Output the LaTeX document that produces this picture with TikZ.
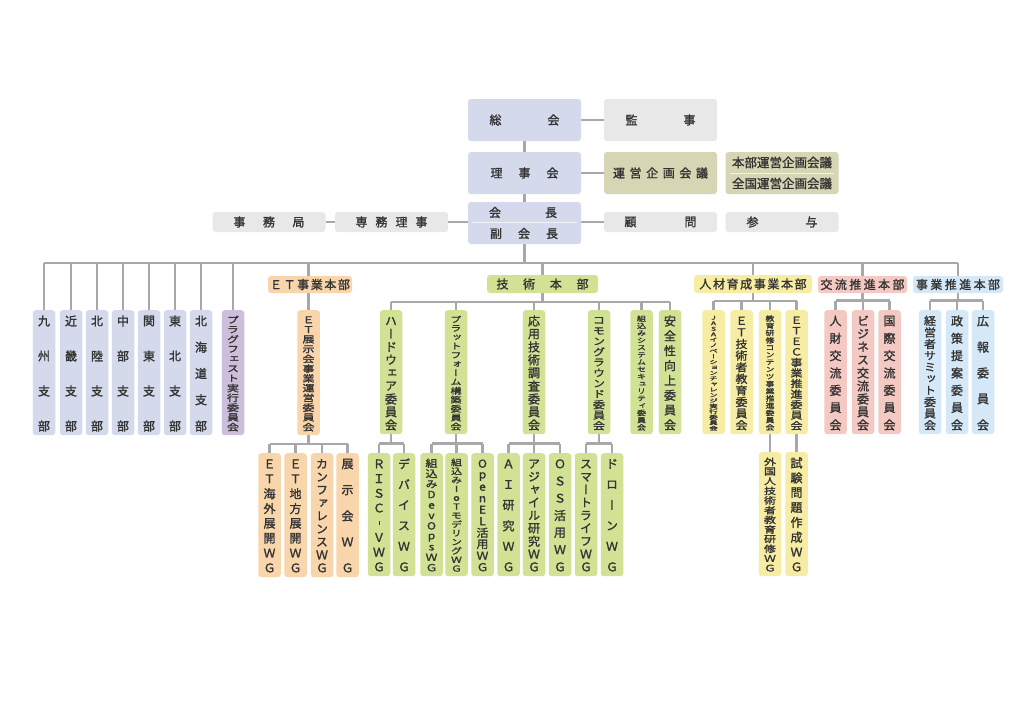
\documentclass[tikz,border=0pt]{standalone}
\usepackage{graphicx}
\usepackage{fontspec}
\newfontfamily\jp{Noto Sans CJK JP}[FakeBold=1.5]
\newfontfamily\jpv{Noto Sans CJK JP}[RawFeature=+vert,FakeBold=1.5]
\definecolor{navy}{HTML}{D4D9EC}
\definecolor{gry}{HTML}{E8E8E8}
\definecolor{olv}{HTML}{D6D5B4}
\definecolor{prp}{HTML}{CDBFDC}
\definecolor{org}{HTML}{F9D5AC}
\definecolor{grn}{HTML}{D2E295}
\definecolor{ylw}{HTML}{F7ECA3}
\definecolor{pnk}{HTML}{F5C9C3}
\definecolor{lbl}{HTML}{D5E8F7}
\definecolor{ln}{HTML}{A8A8A8}
\definecolor{txt}{HTML}{333333}
\pgfdeclarelayer{bg}
\pgfsetlayers{bg,main}
\tikzset{
  obox/.style={draw=none, rounded corners=3pt, inner sep=0pt, text=txt, font=\jp\fontsize{12}{14}\selectfont},
  vb/.style={obox, minimum width=22.5pt},
  tb/.style={obox, minimum width=113pt, minimum height=42pt},
  sb/.style={obox, minimum width=113pt, minimum height=20pt},
  hd/.style={obox, minimum height=17pt},
  conn/.style={draw=ln, line width=2.4pt},
  sep/.style={draw=white, line width=0.8pt, opacity=0.7}
}
% spaced horizontal text
\newcommand\spc[2]{\foreach \c [count=\k] in {#2}{\ifnum\k>1\hspace{#1}\fi\c}}
\newcommand\vhy{\raisebox{2.6pt}{\rule{0.9pt}{3.5pt}}}
% vertical column box: name, x, top, bottom, fill, chars
\newcommand\vcol[6]{%
  \node[vb, fill=#5, minimum height={#4-#3}, anchor=north] (#1) at (#2,#3) {};
  \foreach \c [count=\k] in {#6} {\xdef\vn{\k}}%
  \pgfmathsetmacro\vH{#4-#3}%
  \pgfmathsetmacro\vsa{(\vH-20)/max(\vn-1,1)}%
  \pgfmathsetmacro\vsb{(\vH-8)/\vn}%
  \pgfmathsetmacro\vbig{\vsa>=12 ? 1 : 0}%
  \pgfmathsetmacro\vS{\vbig>0.5 ? \vsa : \vsb}%
  \pgfmathsetmacro\vF{\vbig>0.5 ? 12 : 0.95*\vsb}%
  \pgfmathsetmacro\vT{#3 + (\vbig>0.5 ? 11 : 5+\vsb/2)}%
  \pgfmathsetmacro\vW{min(12,max(1.3*\vF,8.5))}%
  \pgfmathsetmacro\vR{min(1,\vF/\vW)}%
  \foreach \c [count=\k] in {#6} {%
    \node[inner sep=0pt, text=txt, font=\jpv\fontsize{\vW pt}{\vW pt}\selectfont] (#1-\k) at (#2, {\vT+(\k-1)*\vS}) {\scalebox{1}[\vR]{\vphantom{国}\c}};
  }%
}
% fan: parent, bus y, first child, last child, all children
\newcommand\fan[5]{%
  \coordinate (yb) at (0,#2);
  \draw[conn] (#1.south) -- (#1.south |- yb);
  \draw[conn] (#3.north |- yb) -- (#4.north |- yb);
  \foreach \c in {#5} {\draw[conn] (\c.north) -- (\c.north |- yb);}
}
\begin{document}
\begin{tikzpicture}[x=1pt,y=-1pt]
\useasboundingbox (0,0) rectangle (1024,724);
\begin{pgfonlayer}{bg}
\fill[white] (0,0) rectangle (1024,724);
\end{pgfonlayer}

% ---- top boxes
\node[tb, fill=navy] (sokai) at (524.5,120) {総\hspace{46pt}会};
\node[tb, fill=gry] (kanji) at (660.5,120) {監\hspace{46pt}事};
\node[tb, fill=navy] (riji) at (524.5,173) {理\hspace{16pt}事\hspace{16pt}会};
\node[tb, fill=olv] (unei) at (660.5,173) {\spc{4.6pt}{運,営,企,画,会,議}};
\node[tb, fill=olv, align=center, font=\jp\fontsize{12.5}{21}\selectfont] (honbu) at (782,173) {本部運営企画会議\\全国運営企画会議};
\draw[sep] (730,173) -- (834,173);
\node[tb, fill=navy] (kaicho) at (524.5,223) {};
\draw[sep] (472,222.5) -- (577,222.5);
\node[inner sep=0pt, text=txt, font=\jp\fontsize{12}{14}\selectfont] (kaichoA) at (523,212.5) {会\hspace{44pt}長};
\node[inner sep=0pt, text=txt, font=\jp\fontsize{12}{14}\selectfont] (kaichoB) at (524,233.5) {副\hspace{16pt}会\hspace{16pt}長};
\node[sb, fill=gry] (jimu) at (269,222) {事\hspace{17.5pt}務\hspace{17.5pt}局};
\node[sb, fill=gry] (senmu) at (391.5,222) {\spc{8pt}{専,務,理,事}};
\node[sb, fill=gry] (komon) at (660.5,222) {顧\hspace{48pt}問};
\node[sb, fill=gry] (sanyo) at (782,222) {参\hspace{47pt}与};

% ---- branches
\vcol{kyushu}{44}{310}{435}{navy}{九,州,支,部}
\vcol{kinki}{71}{310}{435}{navy}{近,畿,支,部}
\vcol{hokuriku}{97}{310}{435}{navy}{北,陸,支,部}
\vcol{chubu}{123}{310}{435}{navy}{中,部,支,部}
\vcol{kanto}{149}{310}{435}{navy}{関,東,支,部}
\vcol{tohoku}{175}{310}{435}{navy}{東,北,支,部}
\vcol{hokkaido}{201}{310}{435}{navy}{北,海,道,支,部}
\vcol{plug}{233}{310}{435}{prp}{プ,ラ,グ,フ,ェ,ス,ト,実,行,委,員,会}

% ---- ET
\node[hd, fill=org, minimum width=84pt] (etHd) at (310,284.5) {\spc{1.6pt}{Ｅ,Ｔ,事,業,本,部}};
\vcol{etten}{308.5}{310}{435}{org}{Ｅ,Ｔ,展,示,会,事,業,運,営,委,員,会}
\vcol{etkai}{269.5}{453}{577}{org}{Ｅ,Ｔ,海,外,展,開,Ｗ,Ｇ}
\vcol{etchi}{295.5}{453}{577}{org}{Ｅ,Ｔ,地,方,展,開,Ｗ,Ｇ}
\vcol{conf}{322}{453}{577}{org}{カ,ン,フ,ァ,レ,ン,ス,Ｗ,Ｇ}
\vcol{tenji}{347.5}{453}{577}{org}{展,示,会,Ｗ,Ｇ}

% ---- tech
\node[hd, fill=grn, minimum width=111pt, minimum height=18pt] (techHd) at (542.5,284) {\spc{14.7pt}{技,術,本,部}};
\vcol{hard}{391}{310}{434}{grn}{ハ,ー,ド,ウ,ェ,ア,委,員,会}
\vcol{plat}{456}{310}{434}{grn}{プ,ラ,ッ,ト,フ,ォ,ー,ム,構,築,委,員,会}
\vcol{oyo}{534}{310}{434}{grn}{応,用,技,術,調,査,委,員,会}
\vcol{common}{599}{310}{434}{grn}{コ,モ,ン,グ,ラ,ウ,ン,ド,委,員,会}
\vcol{secu}{641.5}{310}{434}{grn}{組,込,み,シ,ス,テ,ム,セ,キ,ュ,リ,テ,ィ,委,員,会}
\vcol{anzen}{670}{310}{434}{grn}{安,全,性,向,上,委,員,会}
\vcol{risc}{379}{453}{576}{grn}{Ｒ,Ｉ,Ｓ,Ｃ,\vhy,Ｖ,Ｗ,Ｇ}
\vcol{device}{404}{453}{576}{grn}{デ,バ,イ,ス,Ｗ,Ｇ}
\vcol{devops}{431.5}{453}{576}{grn}{組,込,み,D,e,v,O,p,s,Ｗ,Ｇ}
\vcol{iot}{456.5}{453}{576}{grn}{組,込,み,I,o,T,モ,デ,リ,ン,グ,Ｗ,Ｇ}
\vcol{openel}{482.5}{453}{576}{grn}{O,p,e,n,E,L,活,用,Ｗ,Ｇ}
\vcol{ai}{508.5}{453}{576}{grn}{Ａ,Ｉ,研,究,Ｗ,Ｇ}
\vcol{agile}{534}{453}{576}{grn}{ア,ジ,ャ,イ,ル,研,究,Ｗ,Ｇ}
\vcol{oss}{560}{453}{576}{grn}{Ｏ,Ｓ,Ｓ,活,用,Ｗ,Ｇ}
\vcol{smart}{586}{453}{576}{grn}{ス,マ,ー,ト,ラ,イ,フ,Ｗ,Ｇ}
\vcol{drone}{612}{453}{576}{grn}{ド,ロ,ー,ン,Ｗ,Ｇ}

% ---- jinzai
\node[hd, fill=ylw, minimum width=118pt, minimum height=18pt] (hrHd) at (753,284) {\spc{1.6pt}{人,材,育,成,事,業,本,部}};
\vcol{jasa}{713.5}{310}{434}{ylw}{J,A,S,A,イ,ノ,ベ,ー,シ,ョ,ン,チ,ャ,レ,ン,ジ,実,行,委,員,会}
\vcol{ettech}{741.5}{310}{434}{ylw}{Ｅ,Ｔ,技,術,者,教,育,委,員,会}
\vcol{kyoiku}{770}{310}{434}{ylw}{教,育,研,修,コ,ン,テ,ン,ツ,事,業,推,進,委,員,会}
\vcol{etec}{796.5}{310}{434}{ylw}{Ｅ,Ｔ,Ｅ,Ｃ,事,業,推,進,委,員,会}
\vcol{gaikoku}{770}{452}{576}{ylw}{外,国,人,技,術,者,教,育,研,修,Ｗ,Ｇ}
\vcol{shiken}{796.5}{452}{576}{ylw}{試,験,問,題,作,成,Ｗ,Ｇ}

% ---- koryu
\node[hd, fill=pnk, minimum width=89pt] (krHd) at (862.5,284.5) {\spc{2.4pt}{交,流,推,進,本,部}};
\vcol{jinzai}{835.5}{310}{434}{pnk}{人,財,交,流,委,員,会}
\vcol{biz}{863}{310}{434}{pnk}{ビ,ジ,ネ,ス,交,流,委,員,会}
\vcol{kokusai}{889.5}{310}{434}{pnk}{国,際,交,流,委,員,会}

% ---- jigyo suishin
\node[hd, fill=lbl, minimum width=90pt] (jgHd) at (958,284.5) {\spc{2.4pt}{事,業,推,進,本,部}};
\vcol{summit}{930}{310}{434}{lbl}{経,営,者,サ,ミ,ッ,ト,委,員,会}
\vcol{seisaku}{957}{310}{434}{lbl}{政,策,提,案,委,員,会}
\vcol{koho}{983}{310}{434}{lbl}{広,報,委,員,会}

% ---- connectors
\begin{pgfonlayer}{bg}
\draw[conn] (sokai.south) -- (riji.north);
\draw[conn] (riji.south) -- (kaicho.north);
\draw[conn] (sokai.east) -- (kanji.west);
\draw[conn] (riji.east) -- (unei.west);
\draw[conn] (kaicho.east |- komon) -- (komon.west);
\draw[conn] (senmu.east) -- (kaicho.west |- senmu);
\draw[conn] (jimu.east) -- (senmu.west);
\coordinate (bus) at (0,263);
\draw[conn] (kaicho.south) -- (kaicho.south |- bus);
\draw[conn] (kyushu.north |- bus) -- (jgHd.north |- bus);
\foreach \b in {kyushu,kinki,hokuriku,chubu,kanto,tohoku,hokkaido,plug,etten}
  {\draw[conn] (\b.north) -- (\b.north |- bus);}
\foreach \b in {techHd,hrHd,krHd,jgHd}
  {\draw[conn] (\b.north) -- (\b.north |- bus);}
\fan{etten}{444}{etkai}{tenji}{etkai,etchi,conf,tenji}
\fan{techHd}{302}{hard}{anzen}{hard,plat,oyo,common,secu,anzen}
\fan{hard}{443.5}{risc}{device}{risc,device}
\fan{plat}{443.5}{devops}{openel}{devops,iot,openel}
\fan{oyo}{443.5}{ai}{oss}{ai,agile,oss}
\fan{common}{443.5}{smart}{drone}{smart,drone}
\fan{hrHd}{301}{jasa}{etec}{jasa,ettech,kyoiku,etec}
\draw[conn] (kyoiku.south) -- (gaikoku.north);
\draw[conn] (etec.south) -- (shiken.north);
\fan{krHd}{300.5}{jinzai}{kokusai}{jinzai,biz,kokusai}
\fan{jgHd}{300.5}{summit}{koho}{summit,seisaku,koho}
\end{pgfonlayer}
\end{tikzpicture}
\end{document}
